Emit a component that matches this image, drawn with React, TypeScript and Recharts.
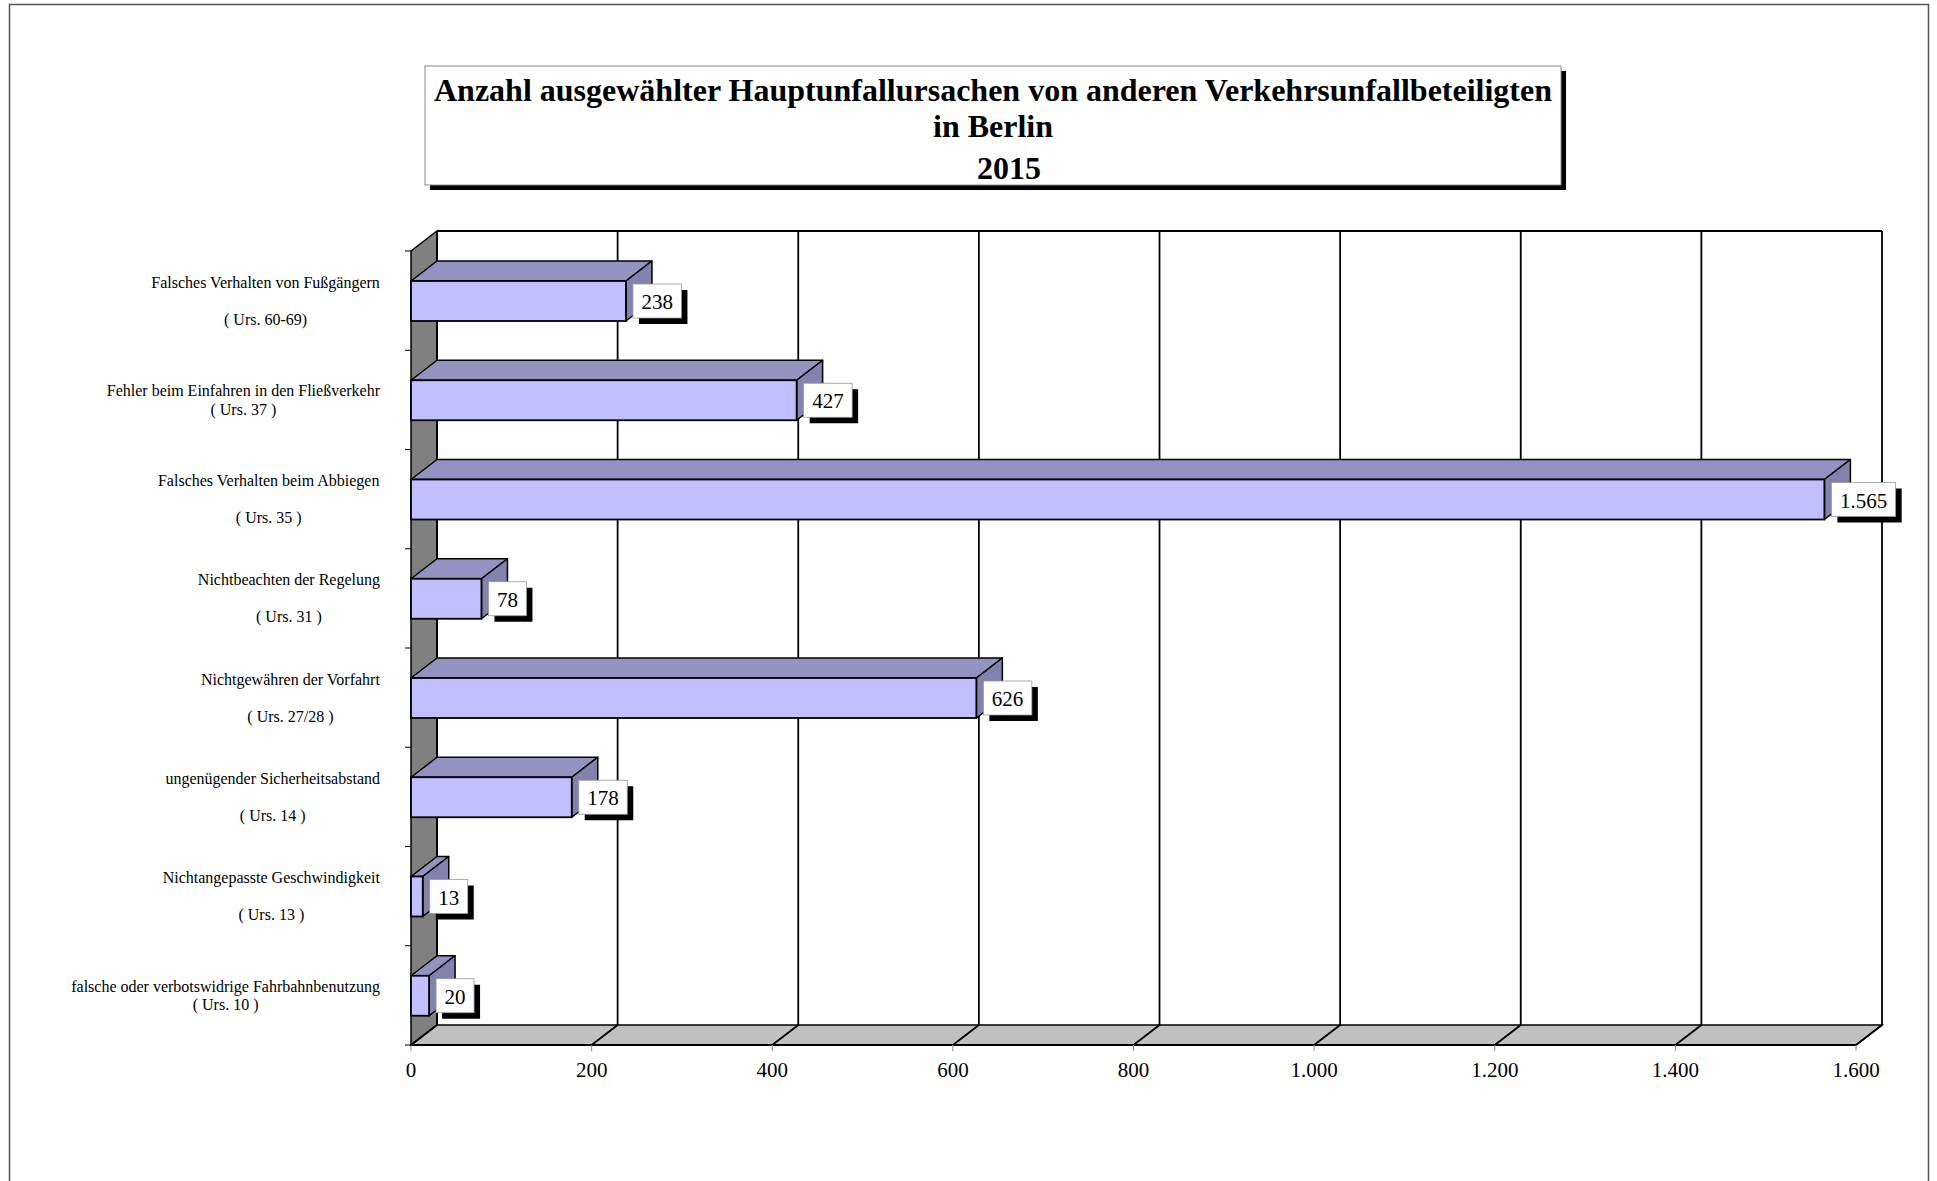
import React from 'react';
import { BarChart, Bar, XAxis, YAxis, ReferenceArea, LabelList } from 'recharts';

const categories: string[] = [
  'Falsches Verhalten von Fußgängern\n\n( Urs. 60-69)',
  'Fehler beim Einfahren in den Fließverkehr\n( Urs. 37 )',
  'Falsches Verhalten beim Abbiegen\n\n( Urs. 35 )',
  'Nichtbeachten der Regelung\n\n( Urs. 31 )',
  'Nichtgewähren der Vorfahrt\n\n( Urs. 27/28 )',
  'ungenügender Sicherheitsabstand\n\n( Urs. 14 )',
  'Nichtangepasste Geschwindigkeit\n\n( Urs. 13 )',
  'falsche oder verbotswidrige Fahrbahnbenutzung\n( Urs. 10 )',
];
const values: number[] = [238, 427, 1565, 78, 626, 178, 13, 20];
const xTicks: number[] = [0, 200, 400, 600, 800, 1000, 1200, 1400, 1600];
const titleLines: string[] = [
  'Anzahl ausgewählter Hauptunfallursachen von anderen Verkehrsunfallbeteiligten',
  'in Berlin',
  '2015',
];

const data = categories.map((name, i) => ({ name, value: values[i] }));

const W = 1937;
const H = 1181;
const PLOT_LEFT = 411;
const PLOT_TOP = 251;
const PLOT_RIGHT = 1856;
const PLOT_BOTTOM = 1045;
const Y_AXIS_W = 390;
const X_AXIS_H = 30;
const LABEL_RIGHT = 380;
const DX = 26;
const DY = 20;
const X_MAX = xTicks[xTicks.length - 1];
const BAND = (PLOT_BOTTOM - PLOT_TOP) / categories.length;
const SERIF = '"Liberation Serif", "Times New Roman", serif';

const fmt = (v: number) => String(v).replace(/\B(?=(\d{3})+(?!\d))/g, '.');

let ctx: CanvasRenderingContext2D | null = null;
function measure(text: string, size: number, bold = false): number {
  if (!ctx) {
    const c = document.createElement('canvas');
    ctx = c.getContext('2d');
  }
  if (!ctx) return text.length * size * 0.45;
  ctx.font = `${bold ? 'bold ' : ''}${size}px "Liberation Serif"`;
  return ctx.measureText(text).width;
}

const YTick = (props: any) => {
  const { y, payload, index } = props;
  const lines = String(payload.value).split('\n');
  const maxW = Math.max(...lines.map((l) => measure(l, 16)));
  const cx = LABEL_RIGHT - maxW / 2;
  const lh = 18.5;
  return (
    <g>
      <line x1={PLOT_LEFT - 6} x2={PLOT_LEFT} y1={y - BAND / 2} y2={y - BAND / 2} stroke="#000" strokeWidth={1} />
      {index === categories.length - 1 && (
        <line x1={PLOT_LEFT - 6} x2={PLOT_LEFT} y1={y + BAND / 2} y2={y + BAND / 2} stroke="#000" strokeWidth={1} />
      )}
      {lines.map((l, i) =>
        l ? (
          <text
            key={i}
            x={cx}
            y={y + (i - (lines.length - 1) / 2) * lh}
            textAnchor="middle"
            dominantBaseline="central"
            fontFamily={SERIF}
            fontSize={16}
            fill="#000"
          >
            {l}
          </text>
        ) : null
      )}
    </g>
  );
};

// Walls, floor and back gridlines; area spans the full x domain [0, X_MAX]
const Frame = (p: any) => {
  const { x, y, width: w, height: h } = p;
  return (
    <g>
      <rect x={x + DX} y={y - DY} width={w} height={h} fill="#fff" />
      <polygon
        points={`${x},${y} ${x + DX},${y - DY} ${x + DX},${y + h - DY} ${x},${y + h}`}
        fill="#808080"
        stroke="#000"
        strokeWidth={1.5}
      />
      <polygon
        points={`${x},${y + h} ${x + DX},${y + h - DY} ${x + w + DX},${y + h - DY} ${x + w},${y + h}`}
        fill="#C0C0C0"
        stroke="#000"
        strokeWidth={1.5}
      />
      <line x1={x + DX} y1={y - DY} x2={x + w + DX} y2={y - DY} stroke="#000" strokeWidth={2} />
      {xTicks.map((v) => {
        const gx = x + (v / X_MAX) * w;
        return (
          <path
            key={v}
            d={`M${gx + DX},${y - DY} L${gx + DX},${y + h - DY} L${gx},${y + h}`}
            fill="none"
            stroke="#000"
            strokeWidth={1.8}
          />
        );
      })}
    </g>
  );
};

const Bar3D = (p: any) => {
  const { x, y, width: w, height: h } = p;
  if (w == null || h == null) return null;
  return (
    <g>
      <polygon
        points={`${x},${y} ${x + w},${y} ${x + w + DX},${y - DY} ${x + DX},${y - DY}`}
        fill="#9393C2"
        stroke="#000"
        strokeWidth={1.5}
        strokeLinejoin="round"
      />
      <polygon
        points={`${x + w},${y} ${x + w + DX},${y - DY} ${x + w + DX},${y + h - DY} ${x + w},${y + h}`}
        fill="#8282AE"
        stroke="#000"
        strokeWidth={1.5}
        strokeLinejoin="round"
      />
      <rect x={x} y={y} width={w} height={h} fill="#C0C0FF" stroke="#000" strokeWidth={1.8} />
    </g>
  );
};

const ValueLabel = (p: any) => {
  const vb = p.viewBox && p.viewBox.width != null ? p.viewBox : p;
  const { x, y, width, height } = vb;
  const text = fmt(Number(p.value));
  const tw = measure(text, 21);
  const bw = tw + 17;
  const bh = 34;
  const bx = x + width + 7;
  const by = y + height / 2 - bh / 2;
  return (
    <g>
      <rect x={bx + 6} y={by + 6} width={bw} height={bh} fill="#000" />
      <rect x={bx} y={by} width={bw} height={bh} fill="#fff" stroke="#999" strokeWidth={0.8} />
      <text
        x={bx + bw / 2}
        y={by + bh / 2 + 1}
        textAnchor="middle"
        dominantBaseline="central"
        fontFamily={SERIF}
        fontSize={21}
        fill="#000"
      >
        {text}
      </text>
    </g>
  );
};

export default function App() {
  return (
    <div style={{ position: 'absolute', left: 0, top: 0, width: W, height: H, background: '#fff', overflow: 'hidden' }}>
      <BarChart
        width={W}
        height={H}
        data={data}
        layout="vertical"
        margin={{
          top: PLOT_TOP,
          right: W - PLOT_RIGHT,
          bottom: H - PLOT_BOTTOM - X_AXIS_H,
          left: PLOT_LEFT - Y_AXIS_W,
        }}
        barCategoryGap={0}
      >
        <ReferenceArea x1={0} x2={X_MAX} shape={Frame} ifOverflow="visible" />
        <XAxis
          type="number"
          domain={[0, X_MAX]}
          ticks={xTicks}
          tickFormatter={fmt}
          interval={0}
          height={X_AXIS_H}
          axisLine={{ stroke: '#000', strokeWidth: 2 }}
          tickLine={{ stroke: '#888' }}
          tickSize={6}
          tickMargin={11}
          tick={{ fontFamily: SERIF, fontSize: 21, fill: '#000' }}
        />
        <YAxis
          type="category"
          dataKey="name"
          width={Y_AXIS_W}
          axisLine={false}
          tickLine={false}
          interval={0}
          tick={YTick}
        />
        <Bar dataKey="value" barSize={40} shape={Bar3D} isAnimationActive={false}>
          <LabelList dataKey="value" content={ValueLabel} />
        </Bar>
      </BarChart>
      <svg
        width={W}
        height={H}
        style={{ position: 'absolute', left: 0, top: 0, pointerEvents: 'none' }}
      >
        <rect x={9.5} y={4.5} width={1919} height={1400} fill="none" stroke="#555" strokeWidth={1.5} />
        <rect x={430} y={71} width={1136} height={119} fill="#000" />
        <rect x={425} y={66} width={1136} height={119} fill="#fff" stroke="#888" strokeWidth={1} />
        {titleLines.map((t, i) => (
          <text
            key={i}
            x={[993, 993, 1009][i]}
            y={[101, 137, 179][i]}
            textAnchor="middle"
            fontFamily={SERIF}
            fontWeight="bold"
            fontSize={32}
            fill="#000"
          >
            {t}
          </text>
        ))}
      </svg>
    </div>
  );
}
